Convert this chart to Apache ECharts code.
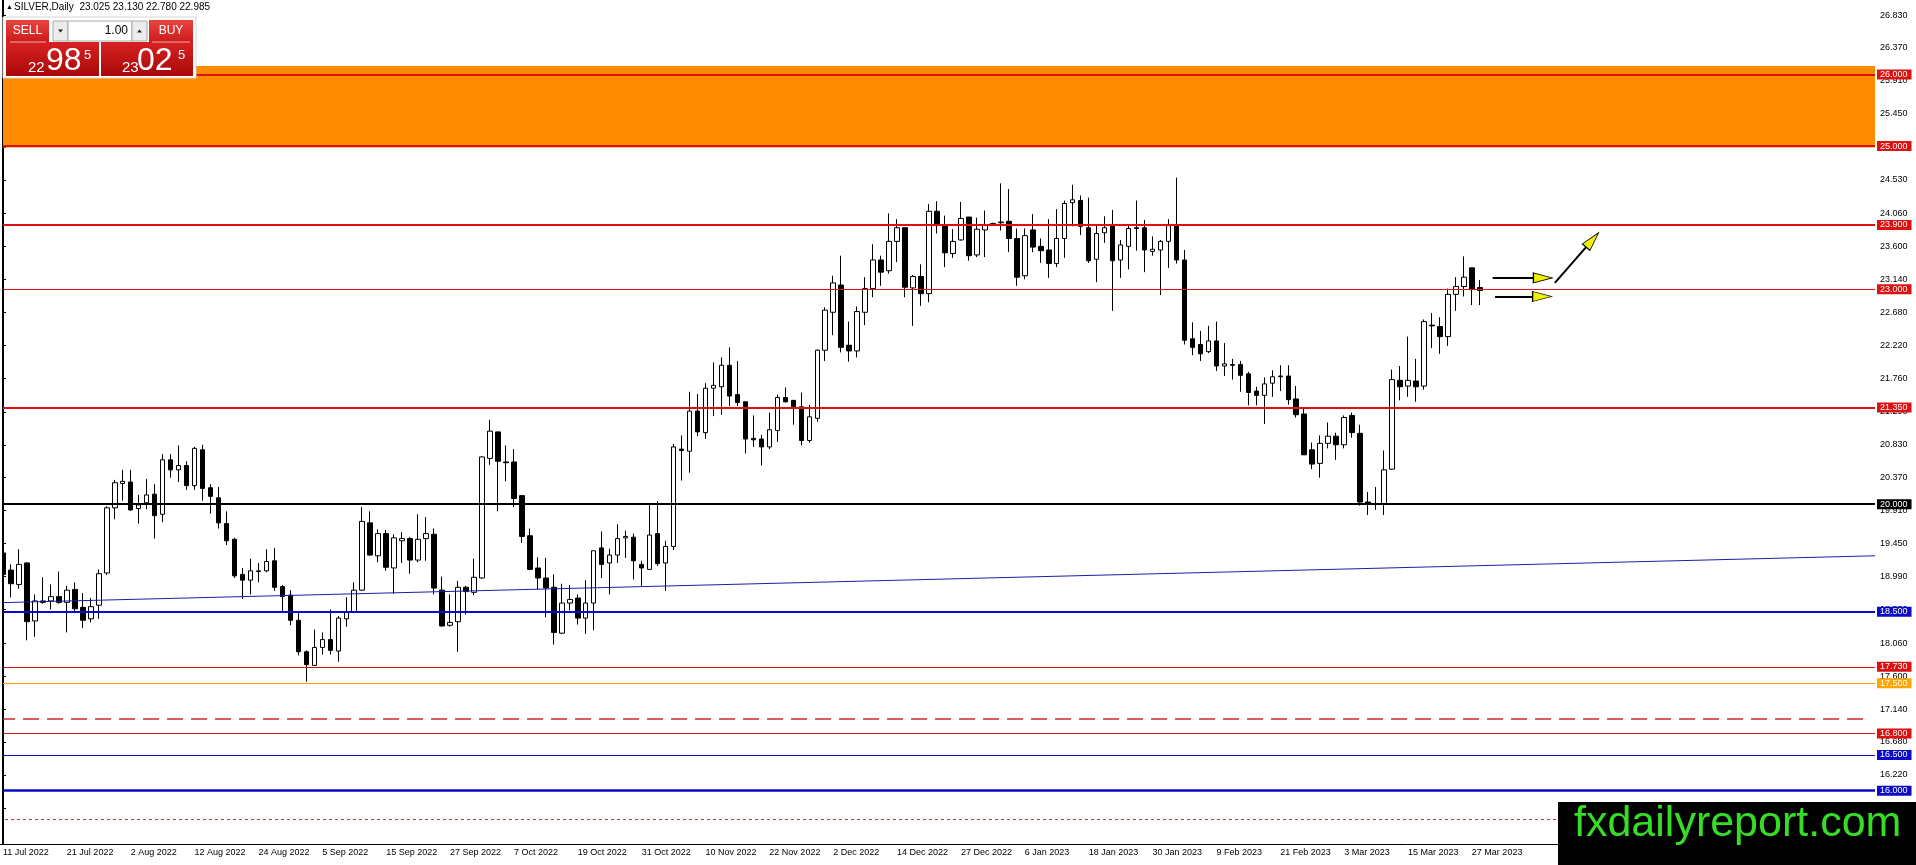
<!DOCTYPE html>
<html lang="en" style="height: 100%">

<head>
  <meta charset="utf-8" />
</head>

<body style="height: 100%; margin: 0; background: #fff">
  <div id="container" style="width: 1916px; height: 865px"></div>

  <script type="text/javascript" src="https://fastly.jsdelivr.net/npm/echarts@6.0.0/dist/echarts.min.js"></script>

  <script type="text/javascript">
    // SILVER daily, 11 Jul 2022 .. 28 Mar 2023
    var opens = [
      19.32, 19.08, 18.88, 19.18, 18.37, 18.65, 18.65, 18.71, 18.63, 18.81,
      18.56, 18.40, 18.59, 19.04, 19.95, 20.29, 20.31, 19.94, 20.02, 20.14,
      19.86, 20.62, 20.48, 20.54, 20.26, 20.76, 20.23, 20.09, 19.73, 19.51,
      19.02, 18.94, 19.06, 19.07, 19.21, 18.85, 18.73, 18.38, 17.94, 17.75,
      18.00, 18.11, 17.95, 18.40, 18.49, 18.80, 19.74, 19.28, 19.59, 19.11,
      19.49, 19.52, 19.22, 19.52, 19.58, 18.80, 18.31, 18.36, 18.84, 18.77,
      18.97, 20.64, 21.01, 20.59, 20.59, 20.12, 19.56, 19.11, 18.97, 18.84,
      18.20, 18.62, 18.69, 18.41, 18.62, 19.39, 19.18, 19.29, 19.53, 19.54,
      19.16, 19.09, 19.59, 19.18, 19.41, 20.77, 20.74, 21.30, 21.00, 21.62,
      21.64, 21.94, 21.53, 21.43, 20.92, 20.91, 20.80, 21.03, 21.49, 21.45,
      21.36, 20.89, 21.20, 22.15, 22.68, 23.06, 22.22, 22.14, 22.68, 23.01,
      23.41, 23.26, 23.67, 23.86, 23.02, 23.18, 22.94, 24.09, 23.89, 23.50,
      23.69, 24.01, 23.48, 23.83, 23.91, 23.93, 23.95, 23.71, 23.19, 23.83,
      23.60, 23.55, 23.36, 23.71, 24.21, 24.24, 23.86, 23.42, 23.79, 23.89,
      23.41, 23.60, 23.86, 23.86, 23.53, 23.55, 23.67, 23.89, 23.41, 22.31,
      22.23, 22.13, 22.28, 21.93, 21.95, 21.95, 21.82, 21.58, 21.52, 21.69,
      21.78, 21.79, 21.47, 21.26, 20.76, 20.57, 20.85, 20.95, 20.83, 21.24,
      20.99, 20.03, 20.00, 20.01, 20.49, 21.73, 21.65, 21.72, 21.65, 22.50,
      22.48, 22.34, 22.93, 23.04, 23.30, 23.025
    ];
    var highs = [
      19.36, 19.16, 19.37, 19.19, 18.74, 18.98, 18.88, 19.06, 18.86, 18.91,
      18.76, 18.69, 19.09, 19.97, 20.34, 20.48, 20.48, 20.13, 20.35, 20.28,
      20.70, 20.70, 20.82, 20.60, 20.80, 20.83, 20.28, 20.24, 19.90, 19.53,
      19.11, 19.24, 19.18, 19.37, 19.39, 18.87, 18.80, 18.50, 17.96, 18.25,
      18.21, 18.53, 18.44, 18.70, 18.91, 19.96, 19.90, 19.65, 19.64, 19.58,
      19.61, 19.54, 19.86, 19.82, 19.66, 18.99, 18.74, 18.93, 18.86, 19.24,
      20.67, 21.18, 21.01, 20.82, 20.77, 20.13, 19.66, 19.26, 19.25, 19.02,
      18.89, 18.87, 18.74, 18.94, 19.35, 19.62, 19.38, 19.72, 19.63, 19.59,
      19.21, 20.00, 20.04, 19.49, 20.84, 20.96, 21.57, 21.54, 21.69, 21.98,
      22.05, 22.19, 22.00, 21.43, 21.24, 20.97, 21.28, 21.53, 21.63, 21.45,
      21.56, 21.39, 22.16, 22.75, 23.19, 23.47, 22.55, 22.76, 23.17, 23.63,
      23.47, 24.06, 23.98, 23.86, 23.20, 23.35, 24.19, 24.23, 24.03, 23.84,
      24.22, 24.01, 24.00, 24.10, 23.93, 24.48, 24.40, 23.85, 23.85, 24.05,
      23.71, 23.98, 24.12, 24.24, 24.46, 24.31, 24.28, 23.89, 24.02, 24.11,
      23.69, 23.89, 24.24, 23.97, 23.74, 23.69, 23.98, 24.56, 23.55, 22.54,
      22.42, 22.49, 22.55, 22.25, 22.03, 22.00, 21.85, 21.64, 21.77, 21.87,
      21.94, 21.94, 21.65, 21.33, 20.86, 20.96, 21.14, 21.00, 21.24, 21.28,
      21.11, 20.17, 20.24, 20.75, 21.88, 21.93, 22.34, 22.03, 22.58, 22.67,
      22.61, 23.01, 23.17, 23.46, 23.30, 23.13
    ];
    var lows = [
      18.98, 18.70, 18.82, 18.10, 18.15, 18.61, 18.53, 18.61, 18.21, 18.48,
      18.27, 18.35, 18.40, 19.01, 19.79, 20.05, 19.91, 19.73, 19.93, 19.52,
      19.75, 20.37, 20.31, 20.20, 20.20, 20.05, 19.87, 19.66, 19.43, 18.97,
      18.68, 18.74, 18.91, 19.05, 18.79, 18.49, 18.31, 17.89, 17.52, 17.74,
      17.90, 17.90, 17.80, 18.29, 18.48, 18.79, 19.28, 19.19, 19.07, 18.75,
      19.18, 19.03, 19.19, 19.21, 18.74, 18.29, 18.29, 17.94, 18.46, 18.73,
      18.96, 20.55, 19.90, 20.32, 19.96, 19.46, 19.08, 18.81, 18.42, 18.04,
      18.19, 18.52, 18.32, 18.19, 18.24, 18.97, 18.74, 19.18, 19.25, 18.95,
      18.86, 19.09, 19.14, 18.79, 19.36, 20.33, 20.44, 20.95, 20.91, 21.23,
      21.25, 21.37, 21.37, 20.71, 20.80, 20.54, 20.77, 20.87, 21.42, 21.11,
      20.82, 20.86, 21.15, 22.00, 22.36, 22.12, 21.99, 22.05, 22.50, 22.89,
      23.05, 23.22, 23.38, 22.89, 22.49, 22.77, 22.82, 23.78, 23.31, 23.44,
      23.68, 23.40, 23.45, 23.45, 23.90, 23.82, 23.52, 23.05, 23.14, 23.52,
      23.37, 23.16, 23.31, 23.44, 23.88, 23.76, 23.37, 23.10, 23.65, 22.70,
      23.16, 23.28, 23.54, 23.24, 23.47, 22.92, 23.30, 23.36, 22.23, 22.08,
      22.00, 22.11, 21.86, 21.79, 21.74, 21.57, 21.38, 21.38, 21.12, 21.50,
      21.58, 21.39, 21.21, 20.69, 20.49, 20.37, 20.78, 20.62, 20.78, 20.93,
      19.98, 19.85, 19.92, 19.85, 20.48, 21.45, 21.50, 21.43, 21.60, 22.18,
      22.10, 22.21, 22.70, 22.90, 22.78, 22.78
    ];
    var closes = [
      19.02, 18.89, 19.16, 18.36, 18.65, 18.63, 18.71, 18.63, 18.80, 18.54,
      18.38, 18.57, 19.03, 19.95, 20.30, 20.32, 19.92, 19.99, 20.13, 19.84,
      20.62, 20.48, 20.54, 20.26, 20.78, 20.22, 20.11, 19.74, 19.49, 19.00,
      18.94, 19.07, 19.07, 19.20, 18.84, 18.71, 18.38, 17.94, 17.76, 18.00,
      18.11, 17.96, 18.41, 18.50, 18.80, 19.76, 19.29, 19.59, 19.12, 19.53,
      19.52, 19.22, 19.51, 19.59, 18.83, 18.30, 18.35, 18.84, 18.78, 18.98,
      20.66, 21.02, 20.60, 20.58, 20.08, 19.55, 19.09, 18.97, 18.83, 18.21,
      18.62, 18.67, 18.41, 18.62, 19.35, 19.16, 19.29, 19.52, 19.55, 19.21,
      19.11, 19.57, 19.17, 19.41, 20.80, 20.75, 21.30, 21.01, 21.62, 21.66,
      21.94, 21.51, 21.42, 20.91, 20.90, 20.80, 21.04, 21.49, 21.43, 21.36,
      20.89, 21.22, 22.15, 22.71, 23.09, 22.19, 22.14, 22.69, 23.01, 23.41,
      23.24, 23.67, 23.86, 23.03, 23.18, 22.94, 24.09, 23.91, 23.51, 23.67,
      23.99, 23.47, 23.84, 23.90, 23.92, 23.94, 23.71, 23.17, 23.75, 23.59,
      23.54, 23.36, 23.71, 24.20, 24.25, 23.88, 23.40, 23.78, 23.86, 23.40,
      23.62, 23.85, 23.85, 23.55, 23.56, 23.67, 23.89, 23.41, 22.29, 22.19,
      22.10, 22.28, 21.93, 21.96, 21.94, 21.80, 21.56, 21.52, 21.68, 21.78,
      21.79, 21.46, 21.25, 20.69, 20.56, 20.85, 20.95, 20.83, 21.21, 21.00,
      20.03, 20.00, 20.01, 20.48, 21.74, 21.64, 21.73, 21.64, 22.55, 22.49,
      22.34, 22.93, 23.04, 23.17, 23.00, 22.985
    ];

    var firstDay = "2022-07-11";
    var skippedDays = ["2022-12-26"];
    var slotCount = 235; // bars + empty space on the right

    var yTicks = [26.83, 26.37, 25.91, 25.45, 24.99, 24.53, 24.06, 23.60, 23.14, 22.68, 22.22, 21.76, 21.29,
      20.83, 20.37, 19.91, 19.45, 18.99, 18.53, 18.06, 17.60, 17.14, 16.68, 16.22, 15.76];

    var levelPrices = [26.0, 25.0, 23.9, 23.0, 21.35, 20.0, 18.5, 17.73, 17.5, 16.8, 16.5, 16.0];
    var zone = [26.12, 24.98];
    var trendLine = [[-0.5, 18.625], [234.5, 19.28]];
    var dashedLine = [[-0.5, 17.0], [233.6, 17.0]];
    var dottedLine = [[-0.5, 15.6], [234.5, 15.6]];
    var arrowTails = [[186.6, 23.16], [186.9, 22.90], [194.4, 23.09]];
    var arrowHeads = [[192.9, 23.16], [192.8, 22.90], [199.1, 23.69]];

    var levelStyle = {
      26: { color: "#dd1111", width: 2 },
      25: { color: "#dd1111", width: 2 },
      23.9: { color: "#dd1111", width: 2 },
      23: { color: "#dd1111", width: 1 },
      21.35: { color: "#dd1111", width: 2 },
      20: { color: "#000000", width: 2 },
      18.5: { color: "#0a0ac8", width: 2 },
      17.73: { color: "#dd1111", width: 1 },
      17.5: { color: "#ffa500", width: 1 },
      16.8: { color: "#dd1111", width: 1 },
      16.5: { color: "#0a0ac8", width: 1 },
      16: { color: "#0a0ac8", width: 2.5 }
    };
    var headRotate = [-90, -90, -40.5];

    var months = ["Jan", "Feb", "Mar", "Apr", "May", "Jun", "Jul", "Aug", "Sep", "Oct", "Nov", "Dec"];
    var categories = [];
    var day = new Date(firstDay + "T00:00:00Z");
    while (categories.length < opens.length) {
      var iso = day.toISOString().slice(0, 10);
      var wd = day.getUTCDay();
      if (wd !== 0 && wd !== 6 && skippedDays.indexOf(iso) < 0) {
        categories.push(day.getUTCDate() + " " + months[day.getUTCMonth()] + " " + day.getUTCFullYear());
      }
      day.setUTCDate(day.getUTCDate() + 1);
    }
    while (categories.length < slotCount) categories.push("");

    var candles = opens.map(function (o, i) {
      return [o, closes[i], lows[i], highs[i]];
    });

    var showEvery8 = function (idx, val) {
      return idx % 8 === 0 && val !== "";
    };

    var font = '"Liberation Sans", Arial, sans-serif';

    var levelLines = levelPrices.map(function (p) {
      var s = levelStyle[p];
      return {
        yAxis: p,
        lineStyle: { color: s.color, width: s.width, type: "solid" },
        label: { backgroundColor: s.color }
      };
    });

    var dom = document.getElementById("container");
    var myChart = echarts.init(dom, null, {
      renderer: "canvas",
      useDirtyRect: false,
    });

    var redGrad = function (a, b) {
      return new echarts.graphic.LinearGradient(0, 0, 0, 1, [
        { offset: 0, color: a },
        { offset: 1, color: b }
      ]);
    };

    var option = {
      animation: false,
      backgroundColor: "#ffffff",
      textStyle: { fontFamily: font },
      grid: {
        left: -1,
        top: 0,
        right: 41,
        bottom: 21,
        containLabel: false,
        outerBoundsMode: "none"
      },
      xAxis: [
        {
          type: "category",
          data: categories,
          boundaryGap: true,
          axisLine: { lineStyle: { color: "#000", width: 1 } },
          axisTick: { interval: showEvery8, alignWithLabel: true, length: 3, lineStyle: { color: "#000" } },
          axisLabel: {
            interval: showEvery8,
            align: "left",
            margin: 4,
            color: "#000",
            fontSize: 9,
            fontFamily: font,
            hideOverlap: false
          },
          splitLine: { show: false }
        },
        {
          type: "value",
          min: -0.5,
          max: slotCount - 0.5,
          show: false
        }
      ],
      yAxis: {
        type: "value",
        position: "right",
        min: 15.256,
        max: 27.04,
        scale: true,
        axisLine: { show: true, lineStyle: { color: "#000", width: 1 } },
        axisTick: { show: true, length: 3, customValues: yTicks, lineStyle: { color: "#000" } },
        axisLabel: {
          customValues: yTicks,
          margin: 5,
          color: "#000",
          fontSize: 9,
          fontFamily: font,
          formatter: function (v) { return Number(v).toFixed(3); }
        },
        splitLine: { show: false }
      },
      series: [
        {
          type: "candlestick",
          data: candles,
          barWidth: 5,
          silent: true,
          itemStyle: {
            color: "#ffffff",
            color0: "#000000",
            borderColor: "#000000",
            borderColor0: "#000000",
            borderWidth: 1
          },
          markArea: {
            silent: true,
            itemStyle: { color: "#ff8c00" },
            data: [[{ yAxis: zone[0] }, { yAxis: zone[1] }]]
          },
          markLine: {
            silent: true,
            symbol: "none",
            precision: 3,
            label: {
              show: true,
              position: "end",
              distance: 2,
              color: "#fff",
              fontSize: 9,
              fontFamily: font,
              padding: [1, 4, 0, 3],
              formatter: function (p) { return Number(p.value).toFixed(3); }
            },
            data: levelLines
          }
        },
        {
          type: "scatter",
          xAxisIndex: 1,
          silent: true,
          z: 10,
          symbol: "triangle",
          symbolSize: [10, 19],
          itemStyle: { color: "#f0f000", borderColor: "#000", borderWidth: 1, opacity: 1 },
          data: arrowHeads.map(function (h, i) {
            return { value: h, symbolRotate: headRotate[i] };
          }),
          markLine: {
            silent: true,
            symbol: "none",
            z: 9,
            label: { show: false },
            data: [
              [{ coord: trendLine[0], lineStyle: { color: "#1c1caa", width: 1, type: "solid" } }, { coord: trendLine[1] }],
              [{ coord: dashedLine[0], lineStyle: { color: "#d02828", width: 1.5, type: [16, 8] } }, { coord: dashedLine[1] }],
              [{ coord: dottedLine[0], lineStyle: { color: "#d02828", width: 1, type: [3, 3] } }, { coord: dottedLine[1] }]
            ].concat(arrowTails.map(function (t, i) {
              return [{ coord: t, lineStyle: { color: "#000", width: 2, type: "solid" } }, { coord: arrowHeads[i] }];
            }))
          }
        }
      ],
      graphic: {
        elements: [
          // left frame edge
          { type: "rect", shape: { x: 0, y: 0, width: 2.5, height: 844 }, style: { fill: "#fff" }, z: 50 },
          { type: "line", shape: { x1: 2.5, y1: 0, x2: 2.5, y2: 844 }, style: { stroke: "#000", lineWidth: 1 }, z: 51 },
          // symbol header
          {
            type: "text", x: 6, y: 7.5, z: 60,
            style: { text: "\u25B2", fill: "#000", font: "7px " + font, textVerticalAlign: "middle", verticalAlign: "middle" }
          },
          {
            type: "text", x: 14, y: 7.5, z: 60,
            style: {
              text: "SILVER,Daily  23.025 23.130 22.780 22.985", fill: "#000", font: "10px " + font,
              textVerticalAlign: "middle", verticalAlign: "middle"
            }
          },
          // one-click trading panel
          { type: "rect", shape: { x: 3, y: 17, width: 193, height: 61 }, style: { fill: "#fff", stroke: "#d6d6d6" }, z: 60 },
          { type: "rect", shape: { x: 6, y: 20, width: 43, height: 22 }, style: { fill: redGrad("#e8453f", "#cc1c1c") }, z: 61 },
          { type: "rect", shape: { x: 149, y: 20, width: 44, height: 22 }, style: { fill: redGrad("#e8453f", "#cc1c1c") }, z: 61 },
          { type: "rect", shape: { x: 6, y: 42, width: 93, height: 34 }, style: { fill: redGrad("#d82222", "#a80808") }, z: 61 },
          { type: "rect", shape: { x: 101, y: 42, width: 92, height: 34 }, style: { fill: redGrad("#d82222", "#a80808") }, z: 61 },
          { type: "line", shape: { x1: 10, y1: 42, x2: 46, y2: 42 }, style: { stroke: "#f3a6a6", lineWidth: 1 }, z: 62 },
          { type: "line", shape: { x1: 152, y1: 42, x2: 190, y2: 42 }, style: { stroke: "#f3a6a6", lineWidth: 1 }, z: 62 },
          { type: "rect", shape: { x: 53, y: 21, width: 15, height: 20 }, style: { fill: "#ececec", stroke: "#a8a8a8" }, z: 61 },
          { type: "rect", shape: { x: 68, y: 21, width: 64, height: 20 }, style: { fill: "#fff", stroke: "#a8a8a8" }, z: 61 },
          { type: "rect", shape: { x: 132, y: 21, width: 15, height: 20 }, style: { fill: "#ececec", stroke: "#a8a8a8" }, z: 61 },
          { type: "polygon", shape: { points: [[58, 29.5], [63, 29.5], [60.5, 32.5]] }, style: { fill: "#222" }, z: 62 },
          { type: "polygon", shape: { points: [[137, 32.5], [142, 32.5], [139.5, 29.5]] }, style: { fill: "#222" }, z: 62 },
          {
            type: "text", x: 128, y: 31, z: 62,
            style: { text: "1.00", fill: "#000", font: "12px " + font, textAlign: "right", align: "right", textVerticalAlign: "middle", verticalAlign: "middle" }
          },
          {
            type: "text", x: 27.5, y: 31, z: 62,
            style: { text: "SELL", fill: "#fff", font: "12px " + font, textAlign: "center", align: "center", textVerticalAlign: "middle", verticalAlign: "middle" }
          },
          {
            type: "text", x: 171, y: 31, z: 62,
            style: { text: "BUY", fill: "#fff", font: "12px " + font, textAlign: "center", align: "center", textVerticalAlign: "middle", verticalAlign: "middle" }
          },
          { type: "text", x: 28, y: 67.5, z: 62, style: { text: "22", fill: "#fff", font: "15px " + font, textVerticalAlign: "middle", verticalAlign: "middle" } },
          { type: "text", x: 46, y: 61.5, z: 62, style: { text: "98", fill: "#fff", font: "32px " + font, textVerticalAlign: "middle", verticalAlign: "middle" } },
          { type: "text", x: 84, y: 55, z: 62, style: { text: "5", fill: "#fff", font: "13px " + font, textVerticalAlign: "middle", verticalAlign: "middle" } },
          { type: "text", x: 122, y: 67.5, z: 62, style: { text: "23", fill: "#fff", font: "15px " + font, textVerticalAlign: "middle", verticalAlign: "middle" } },
          { type: "text", x: 137, y: 61.5, z: 62, style: { text: "02", fill: "#fff", font: "32px " + font, textVerticalAlign: "middle", verticalAlign: "middle" } },
          { type: "text", x: 178, y: 55, z: 62, style: { text: "5", fill: "#fff", font: "13px " + font, textVerticalAlign: "middle", verticalAlign: "middle" } },
          // watermark box
          { type: "rect", shape: { x: 1558, y: 802, width: 358, height: 63 }, style: { fill: "#000" }, z: 70 },
          {
            type: "text", x: 1574, y: 824, z: 71,
            style: { text: "fxdailyreport.com", fill: "#35dd25", font: "43px " + font, textVerticalAlign: "middle", verticalAlign: "middle" }
          }
        ]
      }
    };

    if (option && typeof option === "object") {
      myChart.setOption(option);
    }

    window.addEventListener("resize", myChart.resize);
  </script>
</body>

</html>
